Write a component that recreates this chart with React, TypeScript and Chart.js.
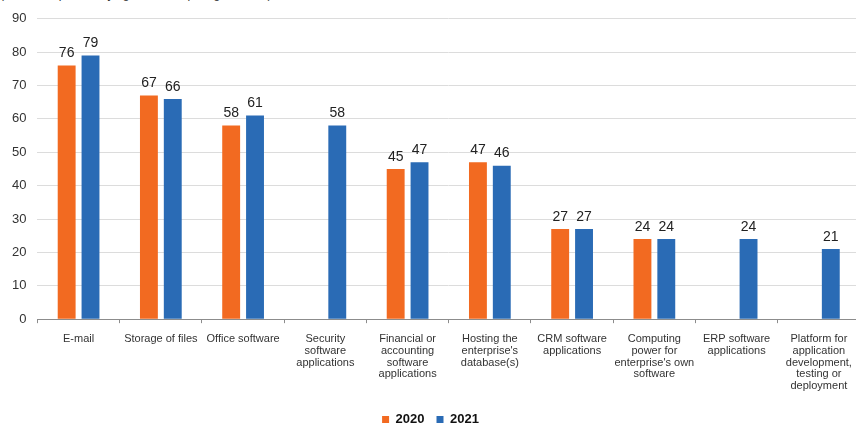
import React, { useEffect, useRef } from "react";
import { Chart, registerables } from "chart.js";

Chart.register(...registerables);

const categories: (string | string[])[] = [
  "E-mail",
  "Storage of files",
  "Office software",
  ["Security", "software", "applications"],
  ["Financial or", "accounting", "software", "applications"],
  ["Hosting the", "enterprise's", "database(s)"],
  ["CRM software", "applications"],
  ["Computing", "power for", "enterprise's own", "software"],
  ["ERP software", "applications"],
  ["Platform for", "application", "development,", "testing or", "deployment"],
];

const values2020: (number | null)[] = [76, 67, 58, null, 45, 47, 27, 24, null, null];
const values2021: (number | null)[] = [79, 66, 61, 58, 47, 46, 27, 24, 24, 21];

const seriesLabels = ["2020", "2021"];
const colors = ["#F26A21", "#2A6BB5"];
const yTicks = [0, 10, 20, 30, 40, 50, 60, 70, 80, 90];

const FONT = "'Liberation Sans', Arial, sans-serif";

const valueLabels = {
  id: "valueLabels",
  afterDatasetsDraw(chart: any) {
    const ctx = chart.ctx;
    ctx.save();
    ctx.font = `14px ${FONT}`;
    ctx.fillStyle = "#222";
    ctx.textAlign = "center";
    ctx.textBaseline = "bottom";
    chart.data.datasets.forEach((ds: any, i: number) => {
      const meta = chart.getDatasetMeta(i);
      meta.data.forEach((el: any, j: number) => {
        const v = ds.data[j];
        if (v === null || v === undefined) return;
        ctx.fillText(String(v), el.x, el.y - 5);
      });
    });
    ctx.restore();
  },
};

export default function App() {
  const ref = useRef<HTMLCanvasElement>(null);

  useEffect(() => {
    if (!ref.current) return;
    const chart = new Chart(ref.current, {
      type: "bar",
      data: {
        labels: categories,
        datasets: [
          {
            label: seriesLabels[0],
            data: values2020,
            backgroundColor: colors[0],
            categoryPercentage: 0.58,
            barPercentage: 0.75,
          },
          {
            label: seriesLabels[1],
            data: values2021,
            backgroundColor: colors[1],
            categoryPercentage: 0.58,
            barPercentage: 0.75,
          },
        ],
      },
      options: {
        animation: false,
        responsive: false,
        maintainAspectRatio: false,
        layout: { padding: { left: 1, right: 2, top: 10, bottom: 0 } },
        plugins: {
          tooltip: { enabled: false },
          legend: {
            position: "bottom",
            labels: {
              boxWidth: 7,
              boxHeight: 7,
              color: "#111",
              padding: 12,
              font: { family: FONT, size: 13, weight: "bold" },
            },
          },
        },
        scales: {
          x: {
            grid: {
              offset: true,
              drawOnChartArea: false,
              drawTicks: true,
              tickLength: 4,
              color: "#8c8c8c",
            },
            border: { color: "#8c8c8c" },
            ticks: {
              color: "#333",
              padding: 10,
              maxRotation: 0,
              autoSkip: false,
              font: { family: FONT, size: 11, lineHeight: 1.07 },
            },
            afterFit: (scale: any) => {
              scale.height -= 1;
            },
          },
          y: {
            min: 0,
            max: 90,
            afterBuildTicks: (axis: any) => {
              axis.ticks = yTicks.map((v) => ({ value: v }));
            },
            grid: { color: "#dcdcdc", drawTicks: false },
            border: { display: false },
            ticks: {
              color: "#333",
              padding: 11,
              font: { family: FONT, size: 13 },
            },
          },
        },
      },
      plugins: [valueLabels],
    });
    return () => chart.destroy();
  }, []);

  return (
    <div
      style={{
        position: "fixed",
        left: 0,
        top: 0,
        width: 856,
        height: 424,
        overflow: "hidden",
        background: "#fff",
      }}
    >
      <div
        style={{
          position: "absolute",
          left: 0,
          top: -13,
          fontFamily: FONT,
          fontSize: 12,
          lineHeight: "14px",
          color: "#333",
          whiteSpace: "nowrap",
        }}
      >
        (% of enterprises buying cloud computing services)
      </div>
      <canvas
        ref={ref}
        width={862}
        height={436}
        style={{ position: "absolute", left: 0, top: 0, width: 862, height: 436 }}
      />
    </div>
  );
}
